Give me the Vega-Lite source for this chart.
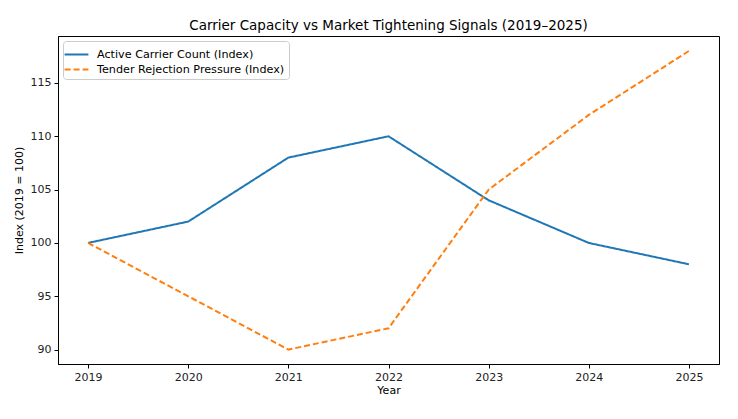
{
  "$schema": "https://vega.github.io/schema/vega-lite/v6.json",
  "width": 661,
  "height": 328,
  "autosize": {"type": "none"},
  "padding": {"left": 58, "top": 36, "right": 19, "bottom": 55},
  "title": {"text": "Carrier Capacity vs Market Tightening Signals (2019–2025)", "fontSize": 13.5, "fontWeight": "normal", "font": "DejaVu Sans", "color": "#000", "offset": 4},
  "config": {
    "font": "DejaVu Sans",
    "view": {"stroke": "#000", "strokeWidth": 1},
    "axis": {"grid": false, "domainColor": "#000", "tickColor": "#000", "tickSize": 4, "labelFontSize": 11, "labelColor": "#222", "titleFontSize": 11, "titleFontWeight": "normal", "titleColor": "#000", "labelPadding": 3}
  },
  "data": {"values": [
    {"Year": 2019, "series": "Active Carrier Count (Index)", "value": 100},
    {"Year": 2020, "series": "Active Carrier Count (Index)", "value": 102},
    {"Year": 2021, "series": "Active Carrier Count (Index)", "value": 108},
    {"Year": 2022, "series": "Active Carrier Count (Index)", "value": 110},
    {"Year": 2023, "series": "Active Carrier Count (Index)", "value": 104},
    {"Year": 2024, "series": "Active Carrier Count (Index)", "value": 100},
    {"Year": 2025, "series": "Active Carrier Count (Index)", "value": 98},
    {"Year": 2019, "series": "Tender Rejection Pressure (Index)", "value": 100},
    {"Year": 2020, "series": "Tender Rejection Pressure (Index)", "value": 95},
    {"Year": 2021, "series": "Tender Rejection Pressure (Index)", "value": 90},
    {"Year": 2022, "series": "Tender Rejection Pressure (Index)", "value": 92},
    {"Year": 2023, "series": "Tender Rejection Pressure (Index)", "value": 105},
    {"Year": 2024, "series": "Tender Rejection Pressure (Index)", "value": 112},
    {"Year": 2025, "series": "Tender Rejection Pressure (Index)", "value": 118}
  ]},
  "mark": {"type": "line", "strokeWidth": 2, "clip": true},
  "encoding": {
    "x": {"field": "Year", "type": "quantitative", "title": "Year",
      "scale": {"domain": [2018.7, 2025.3], "nice": false, "zero": false},
      "axis": {"values": [2019, 2020, 2021, 2022, 2023, 2024, 2025], "format": "d", "titlePadding": 2}},
    "y": {"field": "value", "type": "quantitative", "title": "Index (2019 = 100)",
      "scale": {"domain": [88.65, 119.4], "nice": false, "zero": false},
      "axis": {"values": [90, 95, 100, 105, 110, 115], "titlePadding": 6}},
    "color": {"field": "series", "type": "nominal", "title": null,
      "scale": {"domain": ["Active Carrier Count (Index)", "Tender Rejection Pressure (Index)"], "range": ["#1f77b4", "#ff7f0e"]},
      "legend": {"orient": "top-left", "offset": 5, "symbolType": "M-1.4,0H1.4", "symbolSize": 289, "symbolStrokeWidth": 2, "labelFontSize": 11.2, "labelColor": "#000", "labelLimit": 0, "fillColor": "#fff", "strokeColor": "#ccc", "padding": 4, "cornerRadius": 3, "rowPadding": 0, "labelOffset": 11}},
    "strokeDash": {"field": "series", "type": "nominal",
      "scale": {"domain": ["Active Carrier Count (Index)", "Tender Rejection Pressure (Index)"], "range": [[1, 0], [6, 3]]},
      "legend": null}
  }
}
